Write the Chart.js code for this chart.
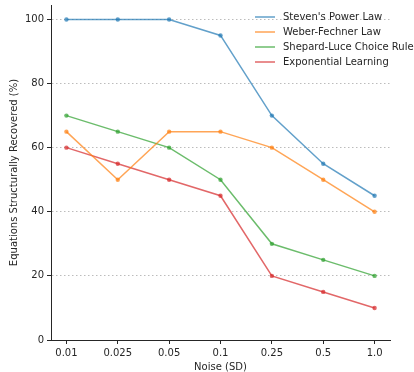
<!DOCTYPE html>
<html>
<head>
<meta charset="utf-8">
<script src="https://cdn.jsdelivr.net/npm/chart.js@4/dist/chart.umd.min.js"></script>
<style>
  html, body { margin: 0; padding: 0; background: #fff; }
  #wrap { width: 414px; height: 372px; }
</style>
</head>
<body>
<div id="wrap"><canvas id="c" width="414" height="372"></canvas></div>
<script>
// Noise levels (standard deviation) on the x axis
const noiseLevels = ['0.01', '0.025', '0.05', '0.1', '0.25', '0.5', '1.0'];

// Percentage of equations structurally recovered per law
const stevensPower = [100, 100, 100, 95, 70, 55, 45];
const weberFechner = [65, 50, 65, 65, 60, 50, 40];
const shepardLuce = [70, 65, 60, 50, 30, 25, 20];
const exponentialLearning = [60, 55, 50, 45, 20, 15, 10];

const yTicks = [0, 20, 40, 60, 80, 100];

const FONT = 'DejaVu Sans';
const INK = '#262626';

function series(label, values, color) {
  return {
    label: label,
    data: values.map((v, i) => ({ x: i, y: v })),
    borderColor: color,
    backgroundColor: color,
    pointBackgroundColor: color,
    pointBorderColor: 'rgba(0,0,0,0)',
    pointRadius: 2.2,
    pointHoverRadius: 2.2,
    borderWidth: 1.5,
    tension: 0,
    fill: false
  };
}

// Legend drawn inside the plot, upper right, with line handles
const innerLegend = {
  id: 'innerLegend',
  afterDraw(chart) {
    const ctx = chart.ctx;
    const x0 = 255, x1 = 275, tx = 283, y0 = 17, step = 15;
    ctx.save();
    ctx.font = '10px "' + FONT + '"';
    ctx.textBaseline = 'middle';
    ctx.textAlign = 'left';
    chart.data.datasets.forEach((ds, i) => {
      const y = y0 + i * step;
      ctx.strokeStyle = ds.borderColor;
      ctx.lineWidth = 1.5;
      ctx.beginPath();
      ctx.moveTo(x0, y);
      ctx.lineTo(x1, y);
      ctx.stroke();
      ctx.fillStyle = INK;
      ctx.fillText(ds.label, tx, y + 0.5);
    });
    ctx.restore();
  }
};

new Chart(document.getElementById('c'), {
  type: 'line',
  data: {
    datasets: [
      series("Steven's Power Law", stevensPower, 'rgba(31,119,180,0.7)'),
      series('Weber-Fechner Law', weberFechner, 'rgba(255,127,14,0.7)'),
      series('Shepard-Luce Choice Rule', shepardLuce, 'rgba(44,160,44,0.7)'),
      series('Exponential Learning', exponentialLearning, 'rgba(214,39,40,0.7)')
    ]
  },
  options: {
    responsive: false,
    animation: false,
    devicePixelRatio: 1,
    layout: { padding: { top: 5, right: 24, left: 0, bottom: 0 } },
    plugins: {
      legend: { display: false },
      tooltip: { enabled: false }
    },
    scales: {
      x: {
        type: 'linear',
        min: -0.3,
        max: 6.3,
        afterBuildTicks(scale) {
          scale.ticks = noiseLevels.map((_, i) => ({ value: i }));
        },
        afterFit(scale) {
          scale.height = 32;
          scale.paddingLeft = 0;
          scale.paddingRight = 0;
        },
        ticks: {
          callback: (v) => noiseLevels[v] ?? '',
          font: { family: FONT, size: 10 },
          color: INK,
          padding: 3,
          maxRotation: 0,
          autoSkip: false
        },
        grid: {
          drawOnChartArea: false,
          drawTicks: true,
          tickLength: 4,
          tickColor: INK,
          tickWidth: 1
        },
        border: { display: true, color: INK, width: 1 },
        title: {
          display: true,
          text: 'Noise (SD)',
          font: { family: FONT, size: 10 },
          color: INK,
          padding: { top: 0, bottom: -1 }
        }
      },
      y: {
        type: 'linear',
        min: 0,
        max: 104.5,
        afterBuildTicks(scale) {
          scale.ticks = yTicks.map(v => ({ value: v }));
        },
        afterFit(scale) {
          scale.width = 51;
          scale.paddingTop = 0;
          scale.paddingBottom = 0;
        },
        ticks: {
          font: { family: FONT, size: 10 },
          color: INK,
          padding: 3
        },
        grid: {
          drawOnChartArea: true,
          color: (c) => (c.tick && (c.tick.value === 0)) ? 'rgba(0,0,0,0)' : 'rgba(160,160,160,0.7)',
          lineWidth: 1,
          drawTicks: true,
          tickLength: 4,
          tickColor: INK,
          tickBorderDash: [],
          tickWidth: 1
        },
        border: { display: true, color: INK, width: 1, dash: [1.5, 2.5] },
        title: {
          display: true,
          text: 'Equations Structurally Recovered (%)',
          font: { family: FONT, size: 10 },
          color: INK,
          padding: { top: 8, bottom: 0 }
        }
      }
    }
  },
  plugins: [innerLegend]
});
</script>
</body>
</html>
